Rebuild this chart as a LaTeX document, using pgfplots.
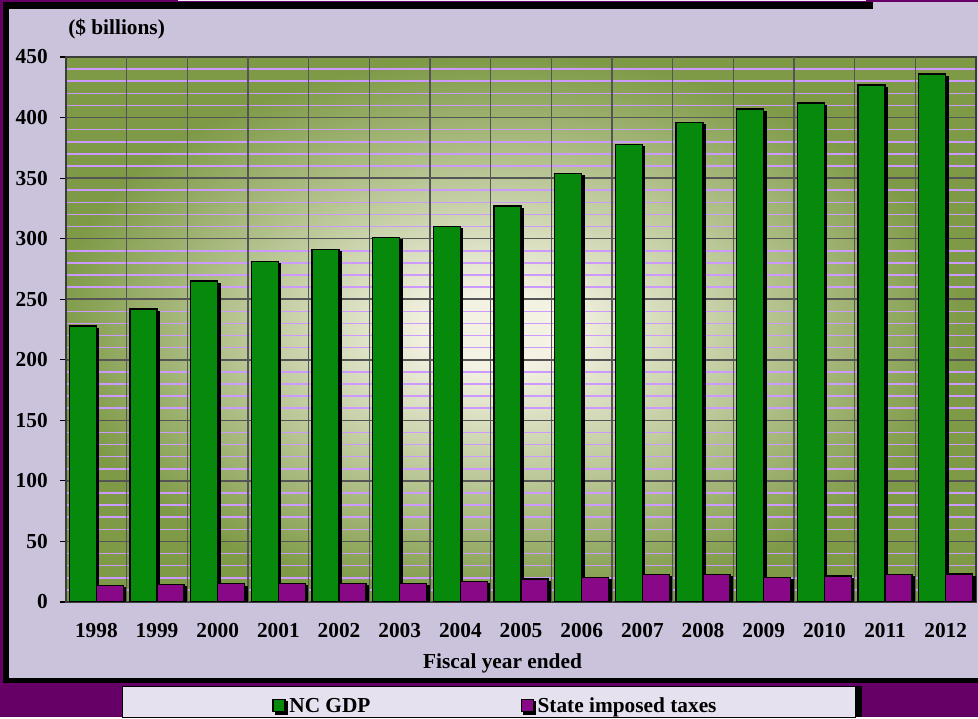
\documentclass[border=0pt]{standalone}
\usepackage{pgfplots}
\pgfplotsset{compat=1.18}
\usepackage{fontspec}
\setmainfont{Liberation Serif}

\definecolor{outerpurple}{HTML}{660066}
\definecolor{chartlav}{HTML}{CBC3DB}
\definecolor{legendlav}{HTML}{E6E1EE}
\definecolor{titlewhite}{HTML}{F2F0F6}
\definecolor{gdpgreen}{RGB}{7,138,11}
\definecolor{taxpurple}{RGB}{136,8,136}
\definecolor{minorlav}{HTML}{CC99FF}
\definecolor{gridgray}{HTML}{555555}
\definecolor{bgin}{HTML}{F4F2E3}
\definecolor{bgout}{HTML}{7E9A47}

% the middle 50bp square of a shading covers the path's bounding box
\pgfdeclareradialshading{plotbg}{\pgfpoint{-1.5bp}{0bp}}{color(0bp)=(bgin); color(3.5bp)=(bgin); color(25bp)=(bgout); color(50bp)=(bgout)}

\newcommand\lbl{\fontsize{16}{18}\selectfont\bfseries}

\begin{document}
\begin{tikzpicture}
% frame, boxes and free texts, in pixel coordinates of the reference (y down)
\begin{scope}[x=0.75pt,y=-0.75pt,yshift=537.75pt]
\fill[outerpurple] (0,0) rectangle (978,717);
\fill[black] (3,2) rectangle (978,683);
\fill[chartlav] (9,9) rectangle (978,678);
\fill[chartlav] (873,2) rectangle (978,9);
\fill[titlewhite] (178,0) rectangle (866,1.5);
\fill[black] (855,686) rectangle (862,717);
\filldraw[fill=legendlav, draw=black, line width=0.75pt] (122.5,686.5) rectangle (855,718);
\node[anchor=base west, font=\lbl, inner sep=0pt] at (68,35) {(\$ billions)};
\node[anchor=base, font=\lbl, inner sep=0pt] at (502.5,669) {Fiscal year ended};
\end{scope}

\begin{axis}[
  at={(49.5pt,86.25pt)}, anchor=south west,
  scale only axis, width=682.5pt, height=408.75pt,
  xmin=-0.5, xmax=14.5, ymin=0, ymax=450,
  ybar, bar width=20.25pt,
  xtick={0,...,14},
  xticklabels={1998,1999,2000,2001,2002,2003,2004,2005,2006,2007,2008,2009,2010,2011,2012},
  ytick={0,50,...,450}, minor y tick num=4,
  ymajorgrids, yminorgrids,
  major grid style={draw=gridgray, line width=1.2pt},
  minor grid style={draw=minorlav, line width=1.2pt},
  extra x ticks={0.5,1.5,...,13.5}, extra x tick labels={},
  extra x tick style={grid=major, xtick style={draw=none}},
  axis line style={draw=gridgray!70!black, line width=1.1pt},
  tick align=outside, ytick pos=left, xtick pos=bottom,
  xtick style={draw=none},
  ytick style={draw=black, line width=0.9pt},
  major tick length=4.5pt, minor tick length=0pt,
  ticklabel style={font=\lbl},
  /pgf/number format/assume math mode=true,
  yticklabel style={inner sep=0pt, xshift=-9pt},
  xticklabel style={anchor=base, inner sep=0pt, yshift=-22pt},
  axis background/.style={shade, shading=plotbg},
  legend image code/.code={\draw[#1, draw=black, line width=1.3pt] (0pt,-4.5pt) rectangle (9pt,4.5pt);},
  legend style={at={(0.2264,-0.19)}, anchor=west, draw=none, fill=none,
    inner sep=0pt, font=\lbl, nodes={inner sep=0pt, text depth=0pt},
    /tikz/every odd column/.append style={column sep=2.5pt},
    /tikz/every even column/.append style={column sep=112.5pt}},
  legend columns=2,
]
\addplot[fill=gdpgreen, draw=black, line width=1pt, bar shift=-10.125pt,
  preaction={fill=black, transform canvas={shift={(1.8pt,-1.8pt)}}}]
  coordinates {(0,228) (1,242) (2,265) (3,281) (4,291) (5,301) (6,310) (7,327)
               (8,354) (9,378) (10,396) (11,407) (12,412) (13,427) (14,436)};
\addlegendentry{NC GDP}
\addplot[fill=taxpurple, draw=black, line width=1pt, bar shift=10.125pt,
  preaction={fill=black, transform canvas={shift={(1.8pt,-1.8pt)}}}]
  coordinates {(0,13.5) (1,14.5) (2,15) (3,15.5) (4,15.5) (5,15.5) (6,17) (7,19)
               (8,20.5) (9,22.5) (10,22.5) (11,20.5) (12,21.5) (13,22.5) (14,23)};
\addlegendentry{State imposed taxes}
\end{axis}
\end{tikzpicture}
\end{document}
